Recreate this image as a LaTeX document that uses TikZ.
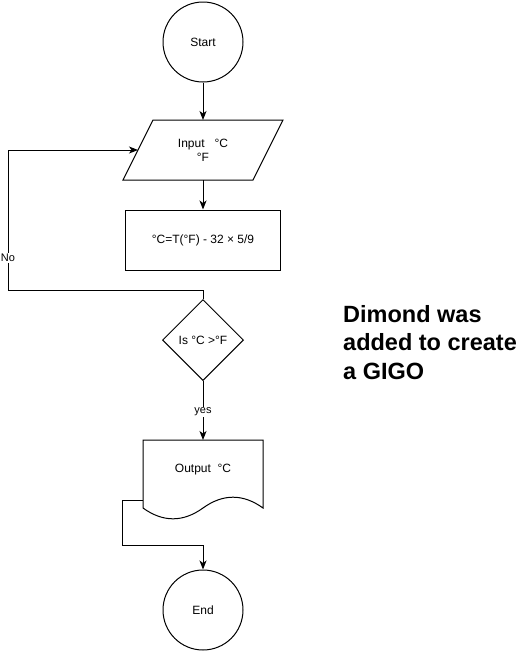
\documentclass[tikz,border=0pt]{standalone}
\usepackage{fontspec}
\setmainfont{Liberation Sans}
\usetikzlibrary{arrows.meta,shapes.geometric}
\begin{document}
\begin{tikzpicture}[x=1pt,y=-1pt,
  every node/.style={font=\fontsize{12}{14}\selectfont},
  line/.style={draw=black,line width=1pt},
  arr/.style={line, -{Stealth[length=9pt,width=7pt,inset=2.5pt]}},
  lbl/.style={fill=white,inner sep=1pt,font=\fontsize{11}{13}\selectfont}]
\useasboundingbox (0,0) rectangle (528,651);
% start
\node[circle,line,minimum size=80pt,inner sep=0] (start) at (203,42) {Start};
% input parallelogram
\draw[line] (153,120) -- (283,120) -- (253,180) -- (123,180) -- cycle;
\node[align=center] (input) at (203,150) {Input\ \ \ °C\\°F};
\coordinate (inTop) at (203,120);
\coordinate (inBot) at (203,180);
\coordinate (inLeft) at (138,150);
% process
\node[draw,line width=1pt,minimum width=155pt,minimum height=60pt,inner sep=0] (proc) at (203,240) {°C=T(°F) - 32 × 5/9};
% decision
\node[diamond,line,minimum width=81pt,minimum height=81pt,inner sep=0,aspect=1] (dec) at (203,340) {};
\node (dect) at (203,340) {Is °C >°F};
% document
\draw[line] (143,440) -- (263,440) -- (263,508)
  .. controls (243,493.6) and (223,493.6) .. (203,508)
  .. controls (183,522.4) and (163,522.4) .. (143,508) -- cycle;
\node (doc) at (203,470) {Output\ \ °C};
\coordinate (docTop) at (203,440);
\coordinate (docLeft) at (143,500);
% end
\node[circle,line,minimum size=80pt,inner sep=0] (end) at (203,610) {End};
% connectors
\draw[arr] (start) -- (inTop);
\draw[arr] (inBot) -- (proc.north);
\coordinate (n1) at (203,290);
\coordinate (n2) at (8,290);
\coordinate (n3) at (8,150);
\draw[arr] (dec.north) -- (n1) -- (n2) -- (n3) -- (inLeft);
\node[lbl] (no) at (8,258) {No};
\draw[arr] (dec.south) -- (docTop);
\node[lbl] (yes) at (203,412) {yes};
\coordinate (m1) at (122,500);
\coordinate (m2) at (122,545);
\coordinate (m3) at (203,545);
\draw[arr] (docLeft) -- (m1) -- (m2) -- (m3) -- (end.north);
% note
\node[anchor=base west,align=left,inner sep=0,font=\fontsize{23.5}{28.5}\selectfont\bfseries] (note) at (343,379) {Dimond was\\added to create\\a GIGO};
\end{tikzpicture}
\end{document}
